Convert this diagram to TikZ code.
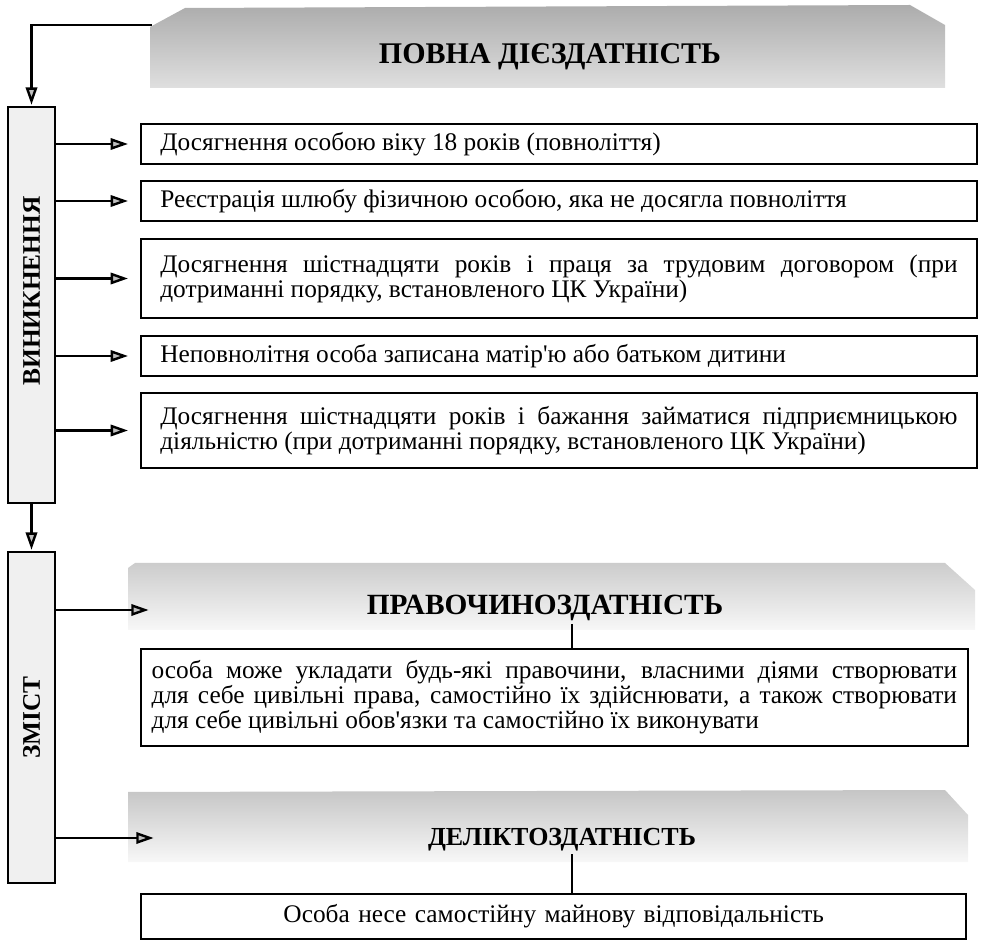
\documentclass[tikz,border=0pt]{standalone}
\usepackage{fontspec}
\setmainfont{Liberation Serif}
\usetikzlibrary{arrows.meta,calc}
\begin{document}
\begin{tikzpicture}[x=0.75pt, y=-0.75pt,
  >={Triangle[length=13pt, width=8.5pt, fill=gray!50]},
  arr/.style={->, line width=1.8pt, shorten >=1pt},
  item/.style={draw, line width=1.5pt, anchor=north west, inner xsep=14.5pt, inner ysep=0pt,
    text width=598pt, align=justify, font=\fontsize{19}{18.75}\selectfont},
  side/.style={draw, line width=1.3pt, fill=gray!12, minimum width=35.25pt, inner sep=0pt},
  sidetext/.style={rotate=90, font=\bfseries\fontsize{19}{20}\selectfont},
  head/.style={font=\bfseries\fontsize{19.5}{22}\selectfont, inner sep=2pt}]
\useasboundingbox (0,0) rectangle (983,948);

% title banner
\shade[top color=gray!65, bottom color=gray!25] (150,27) -- (185,8) -- (910,5) -- (945,25) -- (945,88) -- (150,88) -- cycle;
\node[head, font=\bfseries\fontsize{22.5}{26}\selectfont] (dies) at (550,57) {ПОВНА ДІЄЗДАТНІСТЬ};
\coordinate (diesC) at (152,25);

% left column
\node[side, minimum height=297pt] (vyn) at (31.5,305) {};
\node[sidetext] at (31.5,291) {ВИНИКНЕННЯ};
\node[side, minimum height=248.25pt] (zmist) at (31.5,717.5) {};
\node[sidetext] at (zmist) {ЗМІСТ};

\draw[arr] (diesC) -- (vyn.north |- diesC) -- (vyn.north);
\draw[arr] (vyn.south) -- (zmist.north);

% grounds
\node[item, minimum height=30pt] (b1) at (140,123) {Досягнення особою віку 18 років (повноліття)};
\node[item, minimum height=30pt] (b2) at (140,180) {Реєстрація шлюбу фізичною особою, яка не досягла повноліття};
\node[item, minimum height=59.25pt] (b3) at (140,238) {Досягнення шістнадцяти років і праця за трудовим договором (при дотриманні порядку, встановленого ЦК України)};
\node[item, minimum height=30pt] (b4) at (140,335) {Неповнолітня особа записана матір\textquotesingle ю або батьком дитини};
\node[item, minimum height=56.25pt] (b5) at (140,392) {Досягнення шістнадцяти років і бажання займатися підприємницькою діяльністю (при дотриманні порядку, встановленого ЦК України)};
\foreach \b in {b1,b2,b3,b4,b5}
  \draw[arr, shorten >=9pt] (vyn.east |- \b.west) -- (\b.west);

% legal capacity
\shade[top color=gray!40, bottom color=gray!6] (128,568) -- (135,563) -- (945,563) -- (975,590) -- (975,630) -- (128,630) -- cycle;
\node[head, font=\bfseries\fontsize{22}{24}\selectfont] (pravo) at (545,608) {ПРАВОЧИНОЗДАТНІСТЬ};
\coordinate (pravoIn) at (150,610);
\node[item, text width=604pt, inner xsep=8pt, minimum height=72.75pt] (pb) at (140,648) {особа може укладати будь-які правочини, власними діями створювати\linebreak для себе цивільні права, самостійно їх здійснювати, а також створювати\linebreak для себе цивільні обов\textquotesingle язки та самостійно їх виконувати};
\draw[arr] (zmist.east |- pravoIn) -- (pravoIn);
\coordinate (pl) at ($(pravo.south)+(27,0)$);
\draw[line width=1.2pt] (pl) -- (pl |- pb.north);

% tort capacity
\shade[top color=gray!45, bottom color=gray!6] (128,792) -- (945,790) -- (968,815) -- (968,862) -- (128,862) -- cycle;
\node[head] (delikt) at (562,840) {ДЕЛІКТОЗДАТНІСТЬ};
\coordinate (deliktIn) at (155,838);
\node[item, text width=604pt, inner xsep=7.5pt, align=center, minimum height=33.75pt] (db) at (140,893) {Особа несе самостійну майнову відповідальність};
\draw[arr] (zmist.east |- deliktIn) -- (deliktIn);
\coordinate (dl) at ($(delikt.south)+(10,0)$);
\draw[line width=1.2pt] (dl) -- (dl |- db.north);
\end{tikzpicture}
\end{document}
